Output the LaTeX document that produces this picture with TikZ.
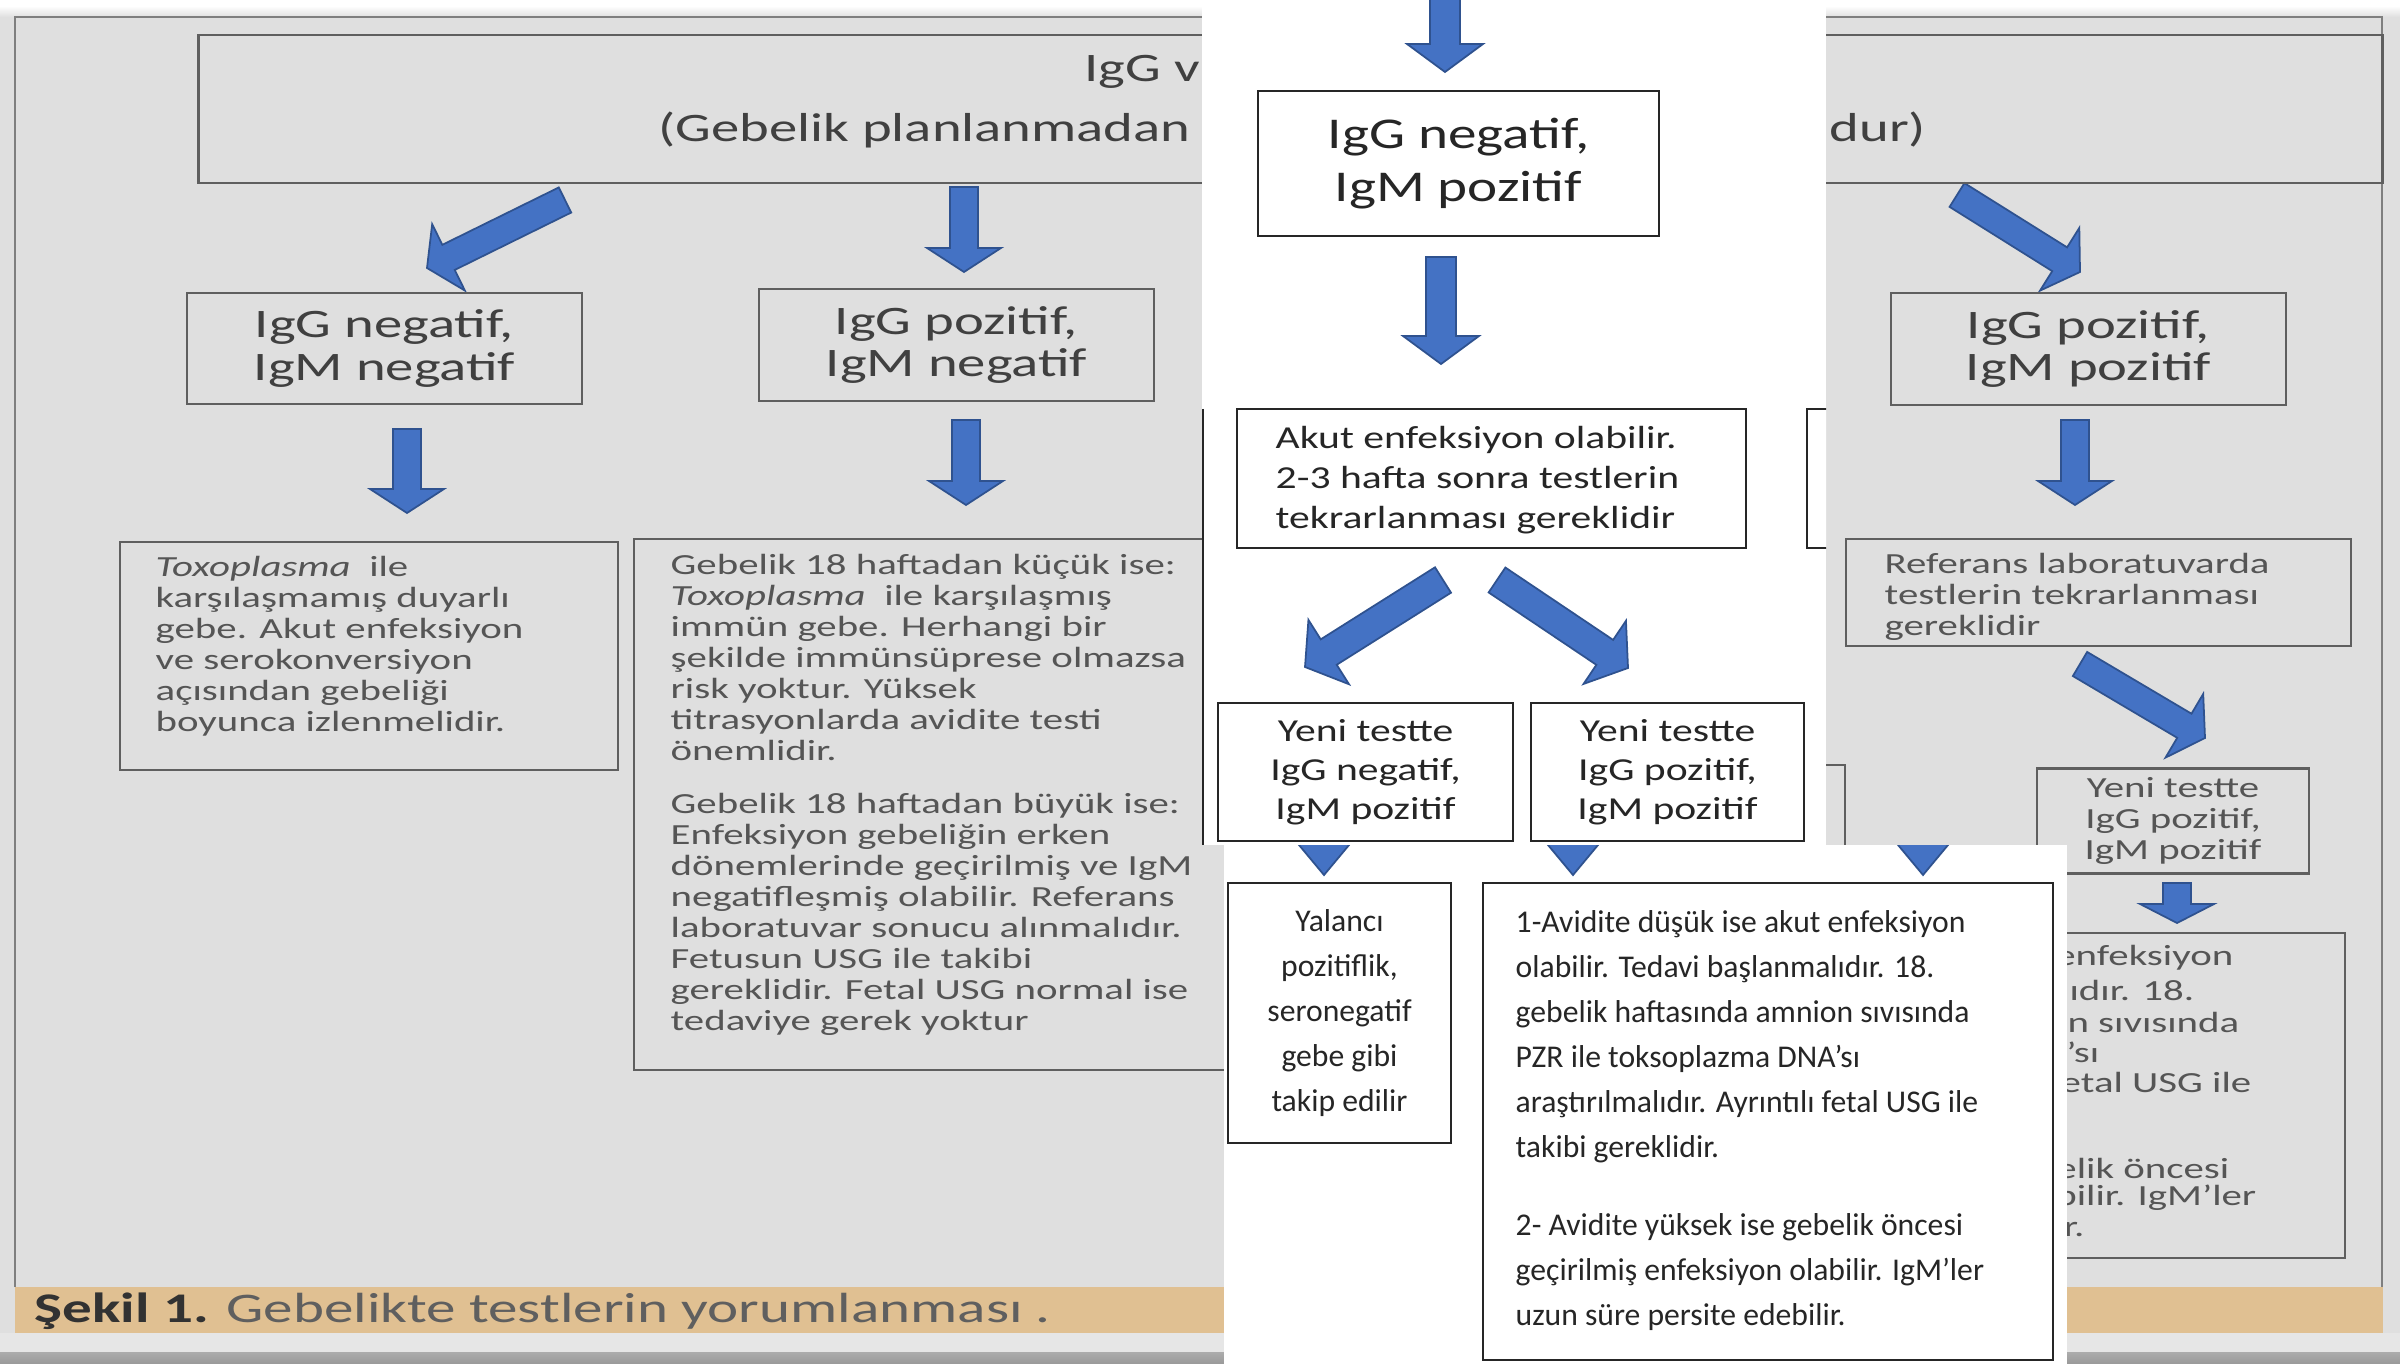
\documentclass[tikz,border=0pt]{standalone}
\usepackage{fontspec}
\setmainfont{Carlito}
\newfontfamily\grayfont[FakeStretch=1.4]{Carlito}
\newfontfamily\midfont[FakeStretch=1.3]{Carlito}
\newfontfamily\lowfont{Carlito}
\usetikzlibrary{calc}
\definecolor{panelgray}{RGB}{223,223,223}
\definecolor{lowgray}{RGB}{230,230,230}
\definecolor{gedge}{RGB}{95,95,95}
\definecolor{gtext}{RGB}{64,64,64}
\definecolor{gtextlight}{RGB}{85,85,85}
\definecolor{captionbar}{RGB}{224,192,146}
\definecolor{capdark}{RGB}{50,50,50}
\definecolor{captext}{RGB}{95,95,95}
\definecolor{arrowblue}{RGB}{68,114,196}
\definecolor{arrowedge}{RGB}{47,82,143}
\pgfdeclarelayer{bglayer}
\pgfdeclarelayer{edgelayer}
\pgfdeclarelayer{nodelayer}
\pgfsetlayers{bglayer,edgelayer,nodelayer,main}
\tikzstyle{gbox}=[rectangle, draw=gedge, line width=0.7pt, inner sep=0pt]
\tikzstyle{wbox}=[rectangle, draw=black!85, fill=white, line width=0.7pt, inner sep=0pt]
\tikzstyle{gbig}=[font=\grayfont\fontsize{11.5}{12}\selectfont, text=gtext, align=center]
\tikzstyle{gsmall}=[font=\grayfont\fontsize{8.3}{8.8}\selectfont, text=gtextlight, align=left, inner sep=0pt]
\tikzstyle{wbig}=[font=\midfont\fontsize{12.5}{15}\selectfont, text=black!85, align=center]
\tikzstyle{wmid}=[font=\midfont\fontsize{9.1}{11.3}\selectfont, text=black!85, align=left, inner sep=0pt]
\tikzstyle{wyeni}=[font=\midfont\fontsize{9.1}{11.1}\selectfont, text=black!85, align=center]
\tikzstyle{wlow}=[font=\lowfont\fontsize{9}{12.8}\selectfont, text=black!85, align=center]
\tikzstyle{blockarrow}=[fill=arrowblue, draw=arrowedge, line width=0.5pt]
% block arrow: tail, tip, half shaft, half head, head length
\newcommand{\barrow}[5]{%
  \coordinate (bh) at ($(#2)!#5!(#1)$);
  \draw [style=blockarrow] ($(#1)!#3!90:(#2)$) -- ($(bh)!#3!-90:(#1)$)
    -- ($(bh)!#4!-90:(#1)$) -- (#2) -- ($(bh)!#4!90:(#1)$)
    -- ($(bh)!#3!90:(#1)$) -- ($(#1)!#3!-90:(#2)$) -- cycle;
}
\newcommand{\garrow}[2]{\barrow{#1}{#2}{0.14cm}{0.37cm}{0.24cm}}
\newcommand{\warrow}[2]{\barrow{#1}{#2}{0.15cm}{0.38cm}{0.28cm}}

\begin{document}
\begin{tikzpicture}[x=0.01cm, y=-0.01cm]
            \useasboundingbox (0,0) rectangle (2400,1364);
            \begin{pgfonlayer}{bglayer}
                \fill [panelgray] (0,0) rectangle (2400,1364);
                \fill [white] (0,0) rectangle (2400,6);
                \shade [top color=white, bottom color=panelgray] (0,6) rectangle (2400,17);
                \fill [captionbar] (15,1287) rectangle (2383,1333);
                \fill [lowgray] (0,1333) rectangle (2400,1352);
                \shade [top color=gray!65, bottom color=gray!80] (0,1352) rectangle (2400,1364);
                \draw [gedge!80, line width=0.6pt] (15,1287) -- (15,17) -- (2382,17) -- (2382,1287);
            \end{pgfonlayer}
            \begin{pgfonlayer}{nodelayer}
                \node [style=gbox, minimum width=21.83cm, minimum height=1.48cm] (gtop) at (1290.5,109) {};
                \node [style=gbig, anchor=west, inner sep=0pt] (gtop1) at (1084,72) {IgG v};
                \node [style=gbig, anchor=west, inner sep=0pt] (gtop2) at (658,130) {(Gebelik planlanmadan};
                \node [style=gbig, anchor=west, inner sep=0pt] (gtop3) at (1829,130) {dur)};

                \node [style=gbox, style=gbig, minimum width=3.95cm, minimum height=1.11cm] (gnn) at (384.5,348.5) {IgG negatif,\\IgM negatif};
                \node [style=gbox, style=gbig, minimum width=3.95cm, minimum height=1.12cm] (gpn) at (956.5,345) {IgG pozitif,\\IgM negatif};
                \node [style=gbox, style=gbig, minimum width=3.95cm, minimum height=1.12cm] (gpp) at (2088.5,349) {IgG pozitif,\\IgM pozitif};

                \node [style=gbox, minimum width=4.98cm, minimum height=2.28cm] (gtox) at (369,656) {};
                \node [style=gsmall, anchor=north west] (gtoxt) at (155,556) {\textit{Toxoplasma} \ ile\\karşılaşmamış duyarlı\\gebe. Akut enfeksiyon\\ve serokonversiyon\\açısından gebeliği\\boyunca izlenmelidir.};

                \node [style=gbox, minimum width=6.01cm, minimum height=5.31cm] (gimm) at (934.5,804.5) {};
                \node [style=gsmall, anchor=north west] (gimmt) at (670,554) {Gebelik 18 haftadan küçük ise:\\\textit{Toxoplasma} \ ile karşılaşmış\\immün gebe. Herhangi bir\\şekilde immünsüprese olmazsa\\risk yoktur. Yüksek\\titrasyonlarda avidite testi\\önemlidir.\\[0.22cm]Gebelik 18 haftadan büyük ise:\\Enfeksiyon gebeliğin erken\\dönemlerinde geçirilmiş ve IgM\\negatifleşmiş olabilir. Referans\\laboratuvar sonucu alınmalıdır.\\Fetusun USG ile takibi\\gereklidir. Fetal USG normal ise\\tedaviye gerek yoktur};

                \node [style=gbox, minimum width=5.05cm, minimum height=1.07cm] (gref) at (2098.5,592.5) {};
                \node [style=gsmall, anchor=north west] (greft) at (1884,553) {Referans laboratuvarda\\testlerin tekrarlanması\\gereklidir};
                \node [style=gbox, style=gsmall, align=center, minimum width=2.72cm, minimum height=1.05cm] (gyeni) at (2173,821) {Yeni testte\\IgG pozitif,\\IgM pozitif};

                \node [style=gbox, minimum width=1.45cm, minimum height=2.35cm] (ghid) at (1772.5,882.5) {};
                \node [style=gbox, minimum width=4.45cm, minimum height=3.25cm] (gpart) at (2122.5,1095.5) {};
                \node [style=gsmall, anchor=east] (gp1) at (2234,958) {enfeksiyon};
                \node [style=gsmall, anchor=east] (gp2) at (2195,990) {ıdır. 18.};
                \node [style=gsmall, anchor=east] (gp3) at (2240,1022) {n sıvısında};
                \node [style=gsmall, anchor=east] (gp4) at (2100,1052) {’sı};
                \node [style=gsmall, anchor=east] (gp5) at (2252,1082) {etal USG ile};
                \node [style=gsmall, anchor=east] (gp6) at (2230,1168) {elik öncesi};
                \node [style=gsmall, anchor=east] (gp7) at (2257,1198) {bilir. IgM’ler};
                \node [style=gsmall, anchor=east] (gp8) at (2085,1230) {r.};

                \node [style=gbig, anchor=west, inner sep=0pt, text=captext, font=\grayfont\fontsize{12}{12}\selectfont] (cap) at (34,1311) {\textbf{\color{capdark}Şekil 1.} Gebelikte testlerin yorumlanması .};
            \end{pgfonlayer}
            \begin{pgfonlayer}{edgelayer}
                \coordinate (a1s) at (565,200);
                \coordinate (a1e) at (427,268);
                \coordinate (a2s) at (964,187);
                \coordinate (a2e) at (964,272);
                \coordinate (a4s) at (1957,195);
                \coordinate (a4e) at (2080,272);
                \coordinate (a5s) at (407,429);
                \coordinate (a5e) at (407,513);
                \coordinate (a6s) at (966,420);
                \coordinate (a6e) at (966,505);
                \coordinate (a7s) at (2075,420);
                \coordinate (a7e) at (2075,505);
                \coordinate (a8s) at (2080,664);
                \coordinate (a8e) at (2205,738);
                \coordinate (a9s) at (2177,883);
                \coordinate (a9e) at (2177,923);
                \garrow{a1s}{a1e}
                \garrow{a2s}{a2e}
                \garrow{a4s}{a4e}
                \garrow{a5s}{a5e}
                \garrow{a6s}{a6e}
                \garrow{a7s}{a7e}
                \garrow{a8s}{a8e}
                \barrow{a9s}{a9e}{0.14cm}{0.37cm}{0.19cm}
            \end{pgfonlayer}

            % second screenshot
            \begin{scope}
                \clip (1202,0) rectangle (1826,845);
                \fill [white] (1202,0) rectangle (1826,845);
                \draw [black!85, line width=0.7pt] (1203,409) -- (1203,845);
                \node [style=wbox, style=wbig, minimum width=4.01cm, minimum height=1.45cm] (wnp) at (1458.5,163.5) {IgG negatif,\\IgM pozitif};
                \node [style=wbox, minimum width=5.09cm, minimum height=1.39cm] (wakut) at (1491.5,478.5) {};
                \node [style=wmid, anchor=west] (wakutt) at (1275,480) {Akut enfeksiyon olabilir.\\2-3 hafta sonra testlerin\\tekrarlanması gereklidir};
                \node [style=wbox, minimum width=0.6cm, minimum height=1.39cm, anchor=west] (wside) at (1806,478.5) {};
                \node [style=wbox, style=wyeni, minimum width=2.95cm, minimum height=1.38cm] (wyneg) at (1365.5,772) {Yeni testte\\IgG negatif,\\IgM pozitif};
                \node [style=wbox, style=wyeni, minimum width=2.73cm, minimum height=1.38cm] (wypos) at (1667.5,772) {Yeni testte\\IgG pozitif,\\IgM pozitif};
                \coordinate (a3s) at (1445,-30);
                \coordinate (a3e) at (1445,72);
                \coordinate (a10s) at (1441,257);
                \coordinate (a10e) at (1441,364);
                \coordinate (a11s) at (1443,580);
                \coordinate (a11e) at (1305,667);
                \coordinate (a12s) at (1497,580);
                \coordinate (a12e) at (1628,668);
                \warrow{a3s}{a3e}
                \warrow{a10s}{a10e}
                \warrow{a11s}{a11e}
                \warrow{a12s}{a12e}
            \end{scope}

            % third screenshot
            \begin{scope}
                \clip (1224,845) rectangle (2067,1364);
                \fill [white] (1224,845) rectangle (2067,1364);
                \coordinate (t1s) at (1324,790);
                \coordinate (t1e) at (1324,875);
                \coordinate (t2s) at (1573,790);
                \coordinate (t2e) at (1573,875);
                \coordinate (t3s) at (1923,790);
                \coordinate (t3e) at (1923,875);
                \barrow{t1s}{t1e}{0.12cm}{0.30cm}{0.36cm}
                \barrow{t2s}{t2e}{0.12cm}{0.30cm}{0.36cm}
                \barrow{t3s}{t3e}{0.12cm}{0.30cm}{0.36cm}
                \node [style=wbox, style=wlow, minimum width=2.23cm, minimum height=2.6cm] (wyal) at (1339.5,1013) {Yalancı\\pozitiflik,\\seronegatif\\gebe gibi\\takip edilir};
                \node [style=wbox, minimum width=5.7cm, minimum height=4.77cm] (wavid) at (1768,1121.5) {};
                \node [style=wlow, align=left, anchor=north west, inner sep=0pt] (wavidt) at (1515,910) {1-Avidite düşük ise akut enfeksiyon\\olabilir. Tedavi başlanmalıdır. 18.\\gebelik haftasında amnion sıvısında\\PZR ile toksoplazma DNA’sı\\araştırılmalıdır. Ayrıntılı fetal USG ile\\takibi gereklidir.\\[0.33cm]2- Avidite yüksek ise gebelik öncesi\\geçirilmiş enfeksiyon olabilir. IgM’ler\\uzun süre persite edebilir.};
            \end{scope}
\end{tikzpicture}
\end{document}
